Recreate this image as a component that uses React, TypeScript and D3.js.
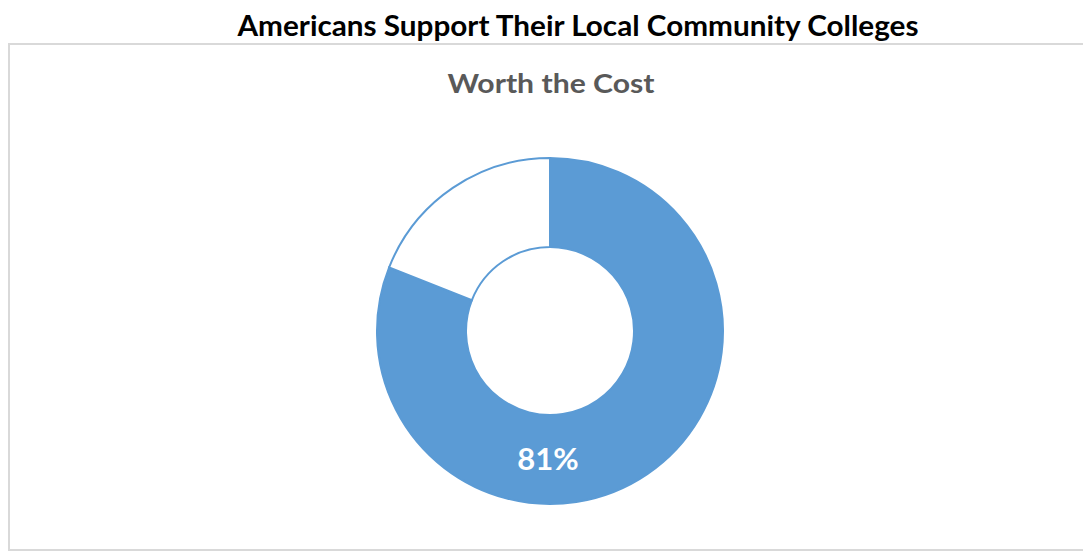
import React, { useEffect, useRef } from 'react';
import * as d3 from 'd3';

// chart data
const categories = ['Worth the cost', 'Not worth the cost'];
const values = [81, 19];
const sliceColors = ['#5B9BD5', '#FFFFFF'];
const pageTitle = 'Americans Support Their Local Community Colleges';
const chartTitle = 'Worth the Cost';

const App: React.FC = () => {
  const svgRef = useRef<SVGSVGElement>(null);

  useEffect(() => {
    if (!svgRef.current) return;
    const width = 1083;
    const height = 553;
    const svg = d3.select(svgRef.current);
    svg.selectAll('*').remove();

    svg.append('rect').attr('width', width).attr('height', height).attr('fill', '#fff');

    // page heading
    svg.append('text')
      .attr('x', 578)
      .attr('y', 36)
      .attr('text-anchor', 'middle')
      .attr('font-family', 'Lato, "Open Sans", sans-serif')
      .attr('font-weight', 700)
      .attr('font-size', 28)
      .attr('textLength', 681)
      .attr('lengthAdjust', 'spacingAndGlyphs')
      .attr('fill', '#000')
      .text(pageTitle);

    // chart frame
    svg.append('rect')
      .attr('x', 9)
      .attr('y', 44)
      .attr('width', width + 10)
      .attr('height', 506)
      .attr('fill', '#fff')
      .attr('stroke', '#d9d9d9')
      .attr('stroke-width', 2);

    svg.append('text')
      .attr('x', 551)
      .attr('y', 93)
      .attr('text-anchor', 'middle')
      .attr('font-family', 'Lato, "Open Sans", sans-serif')
      .attr('font-weight', 700)
      .attr('font-size', 27)
      .attr('textLength', 207)
      .attr('lengthAdjust', 'spacingAndGlyphs')
      .attr('fill', '#595959')
      .text(chartTitle);

    const cx = 550;
    const cy = 331;
    const outerR = 173;
    const innerR = 84;

    const pie = d3.pie<number>().sort(null).value(d => d);
    const arc = d3.arc<d3.PieArcDatum<number>>().innerRadius(innerR).outerRadius(outerR);
    const arcs = pie(values);

    const g = svg.append('g').attr('transform', `translate(${cx},${cy})`);
    g.selectAll('path')
      .data(arcs)
      .join('path')
      .attr('d', arc)
      .attr('fill', (_, i) => sliceColors[i])
      .attr('stroke', '#5B9BD5')
      .attr('stroke-width', 2)
      .append('title')
      .text((d, i) => `${categories[i]}: ${d.data}%`);

    // data label sits at the bottom of the ring
    const labelAngle = Math.PI;
    const rMid = (innerR + outerR) / 2;
    g.append('text')
      .attr('x', Math.sin(labelAngle) * rMid - 2)
      .attr('y', -Math.cos(labelAngle) * rMid)
      .attr('dy', '0.35em')
      .attr('text-anchor', 'middle')
      .attr('font-family', 'Lato, "Open Sans", sans-serif')
      .attr('font-weight', 700)
      .attr('font-size', 31)
      .attr('fill', '#fff')
      .text(`${values[0]}%`);
  }, []);

  return (
    <svg
      ref={svgRef}
      width={1083}
      height={553}
      viewBox="0 0 1083 553"
      style={{ position: 'absolute', left: 0, top: 0 }}
    />
  );
};

export default App;
